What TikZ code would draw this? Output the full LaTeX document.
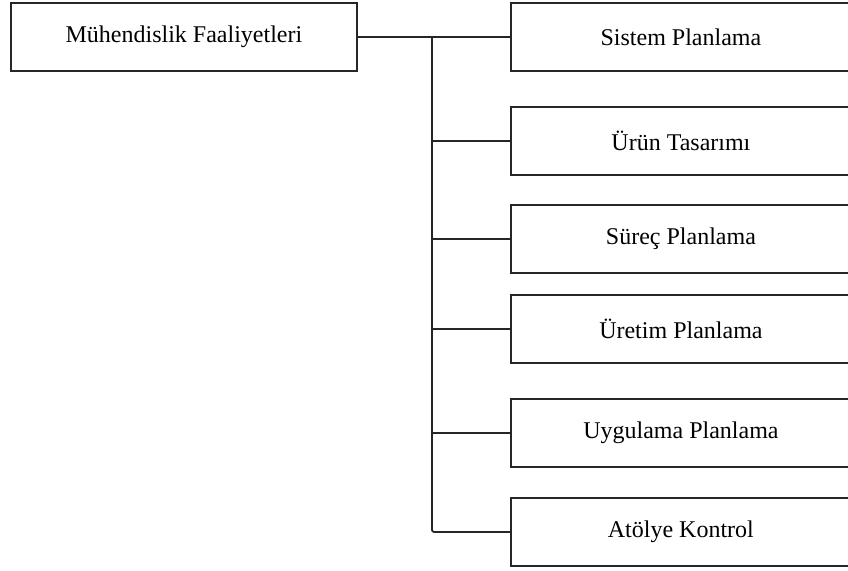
\documentclass[tikz,border=0pt]{standalone}
\usepackage{fontspec}
\setmainfont{Liberation Serif}
\begin{document}
\begin{tikzpicture}[x=1pt,y=-1pt,
  boxstyle/.style={draw=black!85,line width=1.8pt,minimum height=68pt,inner sep=0pt,font=\fontsize{24}{28}\selectfont,anchor=north west},
  link/.style={draw=black!85,line width=1.8pt}]
\useasboundingbox (0,0) rectangle (848,570);
\node[boxstyle,minimum width=346pt] (main) at (10,2) {Mühendislik Faaliyetleri};
\node[boxstyle,minimum width=340pt] (b1) at (510,2) {Sistem Planlama};
\node[boxstyle,minimum width=340pt] (b2) at (510,106) {Ürün Tasarımı};
\node[boxstyle,minimum width=340pt] (b3) at (510,204) {Süreç Planlama};
\node[boxstyle,minimum width=340pt] (b4) at (510,294) {Üretim Planlama};
\node[boxstyle,minimum width=340pt] (b5) at (510,398) {Uygulama Planlama};
\node[boxstyle,minimum width=340pt] (b6) at (510,497) {Atölye Kontrol};
\coordinate (t0) at (432,36);
\draw[link] (main.east) -- (b1.west);
\draw[link,rounded corners=2pt] (t0) -- (t0 |- b6.west) -- (b6.west);
\foreach \n in {b2,b3,b4,b5}{
  \draw[link] (t0 |- \n.west) -- (\n.west);
}
\end{tikzpicture}
\end{document}
